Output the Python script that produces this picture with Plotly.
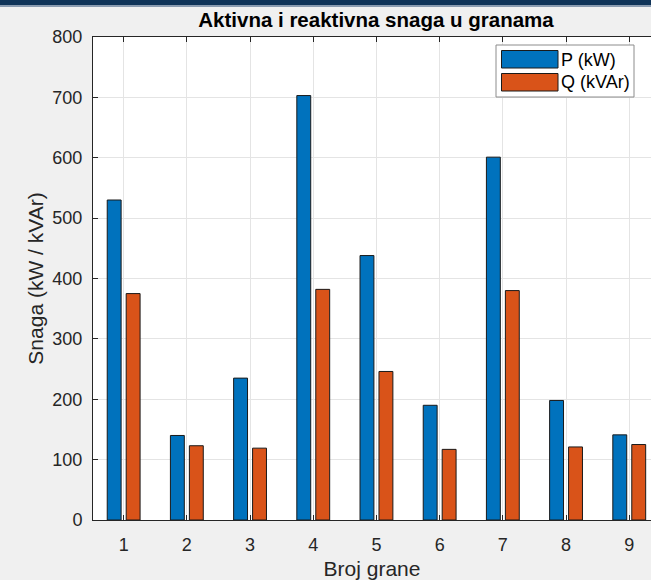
import plotly.graph_objects as go

branches = [1, 2, 3, 4, 5, 6, 7, 8, 9]
p_kw = [530, 140, 235, 703, 438, 190, 601, 198, 141]
q_kvar = [375, 123, 119, 382, 246, 117, 380, 121, 125]
y_ticks = [0, 100, 200, 300, 400, 500, 600, 700, 800]

W, H = 651, 580
L, R, T, B = 93, 0, 37, 60
PW, PH = W - L - R, H - T - B

def px(x):
    return (x - L) / PW

def py(y):
    return (H - B - y) / PH

AX = "#262626"
FONT = "Liberation Sans, Arial, Helvetica, sans-serif"
BLUE = "#0072BD"
ORANGE = "#D95319"

fig = go.Figure()
fig.add_trace(go.Bar(x=branches, y=p_kw, name="P (kW)", width=0.22, offset=-0.26,
                     marker=dict(color=BLUE, line=dict(color="#1a1a1a", width=1)),
                     showlegend=False))
fig.add_trace(go.Bar(x=branches, y=q_kvar, name="Q (kVAr)", width=0.22, offset=0.04,
                     marker=dict(color=ORANGE, line=dict(color="#1a1a1a", width=1)),
                     showlegend=False))

shapes = [
    # window title band
    dict(type="rect", xref="paper", yref="paper", x0=px(0), x1=px(W), y0=py(5), y1=py(-2),
         fillcolor="#0f3358", line=dict(width=0), layer="above"),
    dict(type="rect", xref="paper", yref="paper", x0=px(0), x1=px(W), y0=py(7), y1=py(5),
         fillcolor="#8a9bb0", line=dict(width=0), layer="above"),
    # legend box
    dict(type="rect", xref="paper", yref="paper", x0=px(496), x1=px(634), y0=py(97), y1=py(45),
         fillcolor="white", line=dict(color="#8c8c8c", width=1), layer="above"),
    dict(type="rect", xref="paper", yref="paper", x0=px(501.5), x1=px(558), y0=py(68), y1=py(50.5),
         fillcolor=BLUE, line=dict(color="#1a1a1a", width=1), layer="above"),
    dict(type="rect", xref="paper", yref="paper", x0=px(501.5), x1=px(558), y0=py(91), y1=py(73.5),
         fillcolor=ORANGE, line=dict(color="#1a1a1a", width=1), layer="above"),
]

annotations = [
    dict(text="P (kW)", xref="paper", yref="paper", x=px(559), y=py(59.5), xanchor="left",
         yanchor="middle", showarrow=False, font=dict(family=FONT, size=18, color="#000")),
    dict(text="Q (kVAr)", xref="paper", yref="paper", x=px(559), y=py(82.5), xanchor="left",
         yanchor="middle", showarrow=False, font=dict(family=FONT, size=18, color="#000")),
]

fig.update_layout(
    width=W, height=H,
    margin=dict(l=L, r=R, t=T, b=B, pad=0),
    paper_bgcolor="#f0f0f0",
    plot_bgcolor="white",
    barmode="overlay",
    title=dict(text="<b>Aktivna i reaktivna snaga u granama</b>", xref="container", x=376 / W,
               xanchor="center", yref="container", y=1 - 20 / H, yanchor="middle",
               font=dict(family=FONT, size=20.5, color="#000")),
    font=dict(family=FONT, size=18, color=AX),
    shapes=shapes,
    annotations=annotations,
    xaxis=dict(range=[0.515, 0.515 + PW / 63.2], tickvals=branches, ticktext=[str(b) for b in branches],
               ticks="inside", ticklen=5, tickcolor=AX, showline=True, linecolor=AX, linewidth=1,
               mirror="ticks", showgrid=True, gridcolor="#e4e4e4", gridwidth=1, zeroline=False,
               tickfont=dict(size=18, color=AX), ticklabelstandoff=8,
               title=dict(text="Broj grane", font=dict(size=21, color=AX), standoff=8)),
    yaxis=dict(range=[0, 800], tickvals=y_ticks, ticks="inside", ticklen=5, tickcolor=AX,
               showline=True, linecolor=AX, linewidth=1, showgrid=True, gridcolor="#e4e4e4",
               zeroline=False, tickfont=dict(size=18, color=AX), ticklabelstandoff=6,
               title=dict(text="Snaga (kW / kVAr)", font=dict(size=21, color=AX), standoff=3)),
)

fig.write_html("out.html", config={"displayModeBar": False},
               post_script="document.body.style.margin='0';document.body.style.overflow='hidden';")
